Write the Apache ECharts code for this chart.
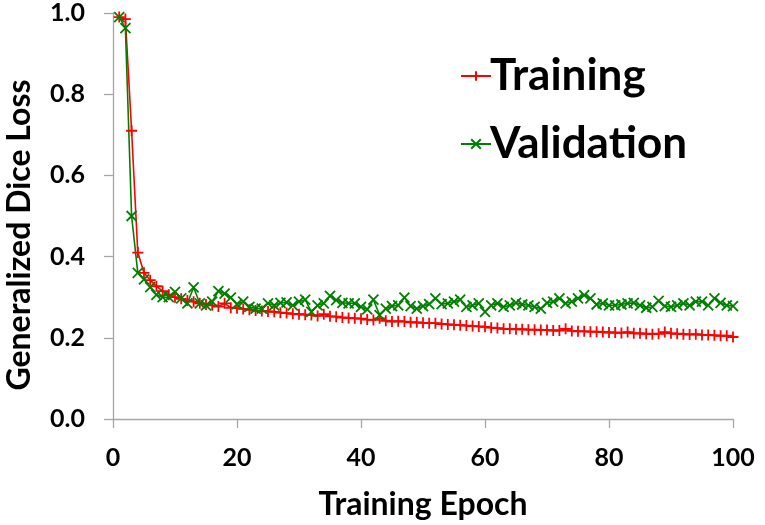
<!DOCTYPE html>
<html>
<head>
<meta charset="utf-8">
<script src="https://cdn.jsdelivr.net/npm/echarts@6/dist/echarts.min.js"></script>
<style>
  html, body { margin: 0; padding: 0; background: #fff; }
  #chart { width: 765px; height: 525px; }
</style>
</head>
<body>
<div id="chart"></div>
<script>
// 数据：每个 epoch 的损失值
const epochs = Array.from({ length: 100 }, (_, i) => i + 1)

const trainingLoss = [
  0.99, 0.985, 0.71, 0.41, 0.36, 0.342, 0.327, 0.315, 0.306, 0.300,
  0.296, 0.292, 0.289, 0.285, 0.282, 0.280, 0.277, 0.285, 0.274, 0.273,
  0.271, 0.269, 0.267, 0.266, 0.265, 0.264, 0.262, 0.261, 0.259, 0.258,
  0.257, 0.256, 0.254, 0.258, 0.253, 0.252, 0.250, 0.249, 0.248, 0.247,
  0.245, 0.244, 0.248, 0.242, 0.240, 0.241, 0.240, 0.238, 0.238, 0.237,
  0.236, 0.236, 0.234, 0.233, 0.232, 0.231, 0.230, 0.229, 0.228, 0.227,
  0.225, 0.224, 0.222, 0.222, 0.221, 0.221, 0.220, 0.220, 0.219, 0.219,
  0.218, 0.218, 0.222, 0.217, 0.216, 0.216, 0.215, 0.215, 0.214, 0.213,
  0.213, 0.212, 0.214, 0.211, 0.211, 0.210, 0.209, 0.210, 0.214, 0.211,
  0.210, 0.209, 0.208, 0.209, 0.207, 0.207, 0.206, 0.205, 0.205, 0.202
]

const validationLoss = [
  0.99, 0.963, 0.50, 0.36, 0.344, 0.325, 0.306, 0.300, 0.300, 0.313,
  0.297, 0.285, 0.324, 0.285, 0.280, 0.289, 0.315, 0.309, 0.299, 0.283,
  0.289, 0.276, 0.272, 0.272, 0.285, 0.280, 0.286, 0.287, 0.280, 0.289,
  0.294, 0.264, 0.280, 0.285, 0.303, 0.293, 0.286, 0.285, 0.285, 0.276,
  0.270, 0.294, 0.256, 0.272, 0.278, 0.280, 0.299, 0.278, 0.272, 0.278,
  0.283, 0.297, 0.283, 0.285, 0.289, 0.294, 0.276, 0.280, 0.285, 0.264,
  0.280, 0.285, 0.276, 0.280, 0.286, 0.282, 0.280, 0.276, 0.272, 0.286,
  0.289, 0.297, 0.285, 0.289, 0.297, 0.305, 0.297, 0.282, 0.285, 0.280,
  0.280, 0.282, 0.285, 0.286, 0.280, 0.274, 0.276, 0.291, 0.278, 0.276,
  0.280, 0.285, 0.280, 0.289, 0.289, 0.280, 0.297, 0.286, 0.280, 0.278
]

const xTicks = [0, 20, 40, 60, 80, 100]
const yTicks = [0.0, 0.2, 0.4, 0.6, 0.8, 1.0]

const FONT = 'Lato, "Open Sans", sans-serif'
const AXIS_GRAY = '#a6a6a6'
const RED = '#ff0000'
const GREEN = '#008000'

const plusSymbol = 'path://M5,0 L5,10 M0,5 L10,5'
const crossSymbol = 'path://M0,0 L10,10 M10,0 L0,10'

const chart = echarts.init(document.getElementById('chart'))

const axisCommon = {
  axisLine: { show: true, lineStyle: { color: AXIS_GRAY, width: 1.3 } },
  axisTick: { show: true, inside: false, length: 9, lineStyle: { color: AXIS_GRAY, width: 1.3 } },
  splitLine: { show: false },
  nameLocation: 'middle'
}

const nameFont = { fontFamily: FONT, fontWeight: 'bold', fontSize: 32, color: '#000' }

chart.setOption({
  animation: false,
  grid: { left: 113, right: 32, top: 13, bottom: 106, containLabel: false, outerBoundsMode: 'none' },
  legend: {
    left: 455,
    top: 49,
    orient: 'vertical',
    itemWidth: 30,
    itemHeight: 12,
    itemGap: 24,
    textStyle: { fontFamily: FONT, fontWeight: 'bold', fontSize: 44, color: '#000', padding: [0, 0, 0, -6] },
    data: ['Training', 'Validation']
  },
  xAxis: {
    ...axisCommon,
    type: 'value',
    min: xTicks[0],
    max: xTicks[xTicks.length - 1],
    interval: xTicks[1] - xTicks[0],
    name: 'Training Epoch',
    nameGap: 70,
    nameTextStyle: nameFont,
    axisLabel: { margin: 26, fontFamily: FONT, fontWeight: 'bold', fontSize: 25, color: '#000' }
  },
  yAxis: {
    ...axisCommon,
    type: 'value',
    min: yTicks[0],
    max: yTicks[yTicks.length - 1],
    interval: yTicks[1] - yTicks[0],
    name: 'Generalized Dice Loss',
    nameGap: 77,
    // 标题在图中略偏下，用右侧 padding 把文字往下推
    nameTextStyle: { ...nameFont, padding: [0, 38, 0, 0] },
    axisLabel: {
      margin: 28, fontFamily: FONT, fontWeight: 'bold', fontSize: 25, color: '#000',
      formatter: v => v.toFixed(1)
    }
  },
  series: [
    {
      name: 'Training',
      type: 'line',
      data: epochs.map((e, i) => [e, trainingLoss[i]]),
      symbol: plusSymbol,
      symbolSize: 11,
      clip: false,
      lineStyle: { color: RED, width: 1.6 },
      itemStyle: { color: RED, borderColor: RED, borderWidth: 1.8 }
    },
    {
      name: 'Validation',
      type: 'line',
      data: epochs.map((e, i) => [e, validationLoss[i]]),
      symbol: crossSymbol,
      symbolSize: 10,
      clip: false,
      lineStyle: { color: GREEN, width: 1.6 },
      itemStyle: { color: GREEN, borderColor: GREEN, borderWidth: 1.8 }
    }
  ]
})
</script>
</body>
</html>
